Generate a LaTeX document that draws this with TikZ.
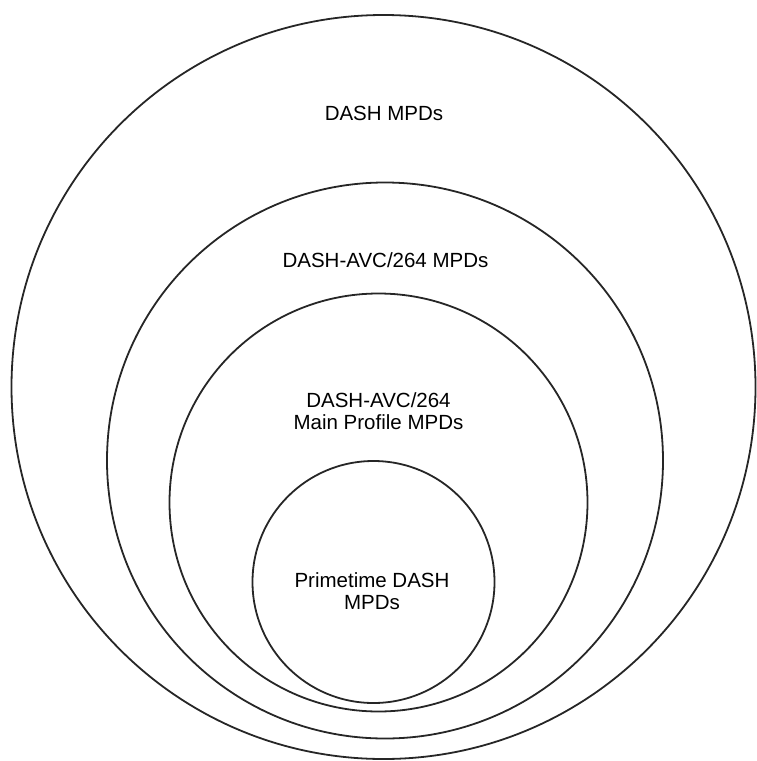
\documentclass[tikz,border=0pt]{standalone}
\usepackage{fontspec}
\setmainfont{Liberation Sans}
\begin{document}
\begin{tikzpicture}[x=1pt,y=-1pt,
  ring/.style={circle,draw=black!85,line width=1.8pt,inner sep=0pt,fill=none},
  lbl/.style={font=\fontsize{20.5}{22}\selectfont,align=center,inner sep=0pt,text=black}]
\useasboundingbox (0,0) rectangle (756,761);
\node[ring,minimum size=744pt] (outer) at (383.5,387) {};
\node[ring,minimum size=556pt] (avc) at (385,460.5) {};
\node[ring,minimum size=418pt] (main) at (378.5,502.5) {};
\node[ring,minimum size=242pt] (prime) at (373.5,582) {};
\node[lbl] (t1) at (384,113) {DASH MPDs};
\node[lbl] (t2) at (385.5,260) {DASH-AVC/264 MPDs};
\node[lbl] (t3) at (378.5,411) {DASH-AVC/264\\Main Profile MPDs};
\node[lbl] (t4) at (372,591) {Primetime DASH\\MPDs};
\end{tikzpicture}
\end{document}
